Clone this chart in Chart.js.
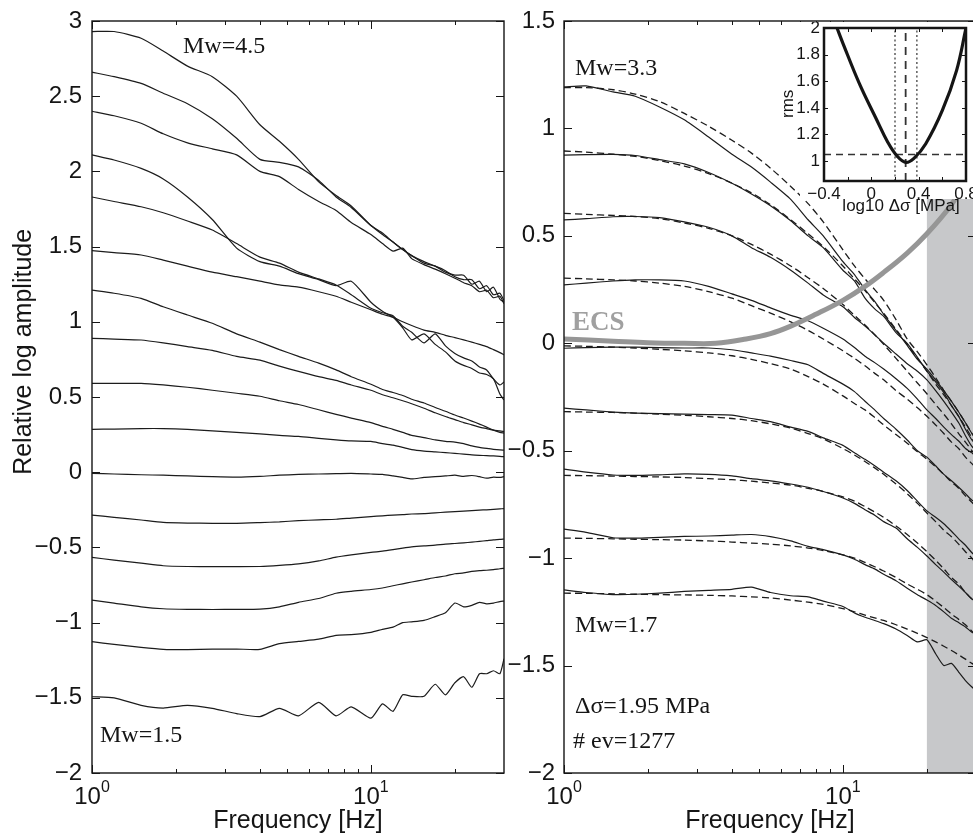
<!DOCTYPE html>
<html>
<head>
<meta charset="utf-8">
<title>Binned source spectra</title>
<script src="https://cdn.jsdelivr.net/npm/chart.js@4.4.1/dist/chart.umd.min.js"></script>
<style>
  html, body { margin: 0; padding: 0; background: #fff; overflow: hidden; }
  body { width: 973px; height: 840px; position: relative; }
  canvas { position: absolute; }
  #left { left: 0; top: 0; }
  #right { left: 490px; top: 0; }
  #inset { left: 778px; top: 22px; }
</style>
</head>
<body>
<canvas id="left" width="520" height="840"></canvas>
<canvas id="right" width="510" height="840"></canvas>
<canvas id="inset" width="200" height="195"></canvas>
<script>
// frequency samples shared by every spectrum (Hz)
const freqs = [1, 1.2, 1.5, 1.8, 2.2, 2.7, 3.3, 4, 4.7, 5.5, 6.5, 7.5, 8.5, 10, 11, 12, 13, 14, 15.5, 17, 18.5, 20, 21.5, 23, 24.5, 26, 27.5, 29, 30];

// left panel: spectra averaged in magnitude bins, Mw 4.5 down to 1.5
const mw45 = [2.93, 2.93, 2.885, 2.80, 2.70, 2.63, 2.50, 2.31, 2.20, 2.08, 1.93, 1.84, 1.77, 1.64, 1.58, 1.53, 1.48, 1.44, 1.40, 1.37, 1.33, 1.31, 1.31, 1.25, 1.27, 1.20, 1.23, 1.15, 1.13];
const mw43 = [2.66, 2.63, 2.585, 2.52, 2.45, 2.35, 2.22, 2.08, 2.06, 2.03, 1.94, 1.83, 1.76, 1.64, 1.59, 1.53, 1.48, 1.44, 1.39, 1.37, 1.34, 1.30, 1.28, 1.28, 1.22, 1.24, 1.18, 1.19, 1.14];
const mw41 = [2.40, 2.37, 2.32, 2.25, 2.19, 2.15, 2.11, 2.00, 1.965, 1.88, 1.80, 1.74, 1.66, 1.58, 1.52, 1.47, 1.49, 1.42, 1.38, 1.35, 1.32, 1.29, 1.26, 1.24, 1.20, 1.21, 1.16, 1.17, 1.12];
const mw39 = [2.11, 2.076, 2.02, 1.95, 1.83, 1.68, 1.49, 1.40, 1.37, 1.32, 1.28, 1.24, 1.27, 1.13, 1.07, 1.03, 0.96, 0.88, 0.92, 0.85, 0.80, 0.74, 0.71, 0.69, 0.66, 0.65, 0.62, 0.52, 0.48];
const mw37 = [1.83, 1.80, 1.765, 1.725, 1.67, 1.61, 1.52, 1.43, 1.39, 1.33, 1.285, 1.245, 1.18, 1.09, 1.06, 1.04, 0.97, 0.93, 0.86, 0.92, 0.84, 0.79, 0.76, 0.74, 0.70, 0.68, 0.62, 0.58, 0.60];
const mw35 = [1.473, 1.46, 1.444, 1.41, 1.37, 1.33, 1.30, 1.27, 1.245, 1.23, 1.20, 1.17, 1.13, 1.08, 1.05, 1.03, 1.00, 0.975, 0.945, 0.93, 0.91, 0.895, 0.88, 0.865, 0.85, 0.835, 0.815, 0.795, 0.78];
const mw33 = [1.21, 1.19, 1.156, 1.10, 1.045, 0.99, 0.92, 0.865, 0.815, 0.77, 0.725, 0.68, 0.635, 0.585, 0.55, 0.53, 0.51, 0.485, 0.46, 0.43, 0.405, 0.38, 0.36, 0.34, 0.32, 0.30, 0.28, 0.265, 0.26];
const mw31 = [0.89, 0.885, 0.879, 0.86, 0.835, 0.81, 0.77, 0.745, 0.705, 0.67, 0.635, 0.61, 0.58, 0.545, 0.515, 0.495, 0.475, 0.455, 0.425, 0.395, 0.37, 0.35, 0.33, 0.315, 0.30, 0.29, 0.28, 0.275, 0.27];
const mw29 = [0.59, 0.59, 0.59, 0.58, 0.565, 0.545, 0.525, 0.505, 0.475, 0.45, 0.415, 0.385, 0.36, 0.33, 0.305, 0.285, 0.265, 0.245, 0.23, 0.215, 0.205, 0.20, 0.19, 0.175, 0.165, 0.158, 0.152, 0.148, 0.147];
const mw27 = [0.285, 0.287, 0.29, 0.29, 0.285, 0.275, 0.265, 0.255, 0.245, 0.238, 0.225, 0.215, 0.208, 0.205, 0.19, 0.18, 0.165, 0.15, 0.14, 0.135, 0.13, 0.125, 0.12, 0.115, 0.112, 0.11, 0.108, 0.105, 0.103];
const mw25 = [-0.008, -0.012, -0.017, -0.02, -0.025, -0.03, -0.033, -0.028, -0.02, -0.015, -0.012, -0.01, -0.008, -0.012, -0.015, -0.025, -0.035, -0.045, -0.035, -0.03, -0.025, -0.02, -0.028, -0.022, -0.03, -0.04, -0.033, -0.035, -0.03];
const mw23 = [-0.285, -0.30, -0.318, -0.333, -0.338, -0.34, -0.34, -0.335, -0.33, -0.322, -0.317, -0.313, -0.305, -0.295, -0.29, -0.285, -0.282, -0.278, -0.275, -0.27, -0.266, -0.262, -0.259, -0.255, -0.252, -0.25, -0.247, -0.244, -0.242];
const mw21 = [-0.566, -0.585, -0.605, -0.622, -0.627, -0.628, -0.628, -0.627, -0.62, -0.61, -0.59, -0.565, -0.55, -0.533, -0.525, -0.515, -0.505, -0.497, -0.49, -0.485, -0.478, -0.474, -0.47, -0.465, -0.46, -0.455, -0.45, -0.447, -0.444];
const mw19 = [-0.85, -0.87, -0.895, -0.908, -0.912, -0.913, -0.912, -0.91, -0.895, -0.865, -0.84, -0.805, -0.792, -0.78, -0.77, -0.755, -0.742, -0.73, -0.715, -0.70, -0.69, -0.675, -0.67, -0.66, -0.655, -0.652, -0.648, -0.642, -0.639];
const mw17 = [-1.127, -1.145, -1.165, -1.178, -1.18, -1.177, -1.176, -1.178, -1.14, -1.125, -1.11, -1.085, -1.08, -1.065, -1.045, -1.03, -1.00, -0.995, -0.985, -0.96, -0.935, -0.87, -0.895, -0.885, -0.866, -0.875, -0.87, -0.86, -0.857];
const mw15 = [-1.493, -1.50, -1.55, -1.568, -1.55, -1.57, -1.605, -1.625, -1.57, -1.62, -1.53, -1.62, -1.56, -1.635, -1.54, -1.59, -1.48, -1.49, -1.49, -1.41, -1.48, -1.40, -1.36, -1.43, -1.34, -1.34, -1.32, -1.34, -1.24];

// right panel: corrected spectra Mw 3.3 .. 1.7 (solid) and the fitted source model (dashed)
const obs33 = [1.193, 1.198, 1.17, 1.15, 1.10, 1.04, 0.96, 0.88, 0.82, 0.75, 0.67, 0.575, 0.50, 0.38, 0.32, 0.25, 0.195, 0.135, 0.06, -0.01, -0.075, -0.12, -0.17, -0.22, -0.27, -0.32, -0.37, -0.42, -0.44];
const obs31 = [0.876, 0.878, 0.879, 0.874, 0.855, 0.835, 0.795, 0.745, 0.695, 0.64, 0.57, 0.50, 0.445, 0.34, 0.29, 0.21, 0.16, 0.125, 0.05, 0.0, -0.065, -0.13, -0.18, -0.23, -0.29, -0.34, -0.40, -0.45, -0.47];
const obs29 = [0.574, 0.58, 0.589, 0.59, 0.585, 0.565, 0.54, 0.50, 0.445, 0.40, 0.34, 0.28, 0.225, 0.17, 0.12, 0.08, 0.04, 0.0, -0.05, -0.095, -0.13, -0.17, -0.22, -0.27, -0.32, -0.37, -0.43, -0.48, -0.50];
const obs27 = [0.272, 0.28, 0.29, 0.295, 0.295, 0.29, 0.265, 0.23, 0.20, 0.165, 0.13, 0.105, 0.07, 0.02, -0.02, -0.06, -0.09, -0.12, -0.165, -0.21, -0.26, -0.31, -0.35, -0.39, -0.425, -0.455, -0.49, -0.51, -0.53];
const obs25 = [-0.023, -0.02, -0.018, -0.018, -0.02, -0.022, -0.022, -0.03, -0.045, -0.06, -0.08, -0.10, -0.14, -0.19, -0.225, -0.27, -0.31, -0.35, -0.40, -0.45, -0.50, -0.53, -0.57, -0.61, -0.64, -0.67, -0.70, -0.73, -0.74];
const obs23 = [-0.302, -0.31, -0.32, -0.325, -0.327, -0.33, -0.332, -0.334, -0.35, -0.365, -0.39, -0.41, -0.44, -0.475, -0.51, -0.54, -0.57, -0.60, -0.64, -0.685, -0.735, -0.78, -0.81, -0.84, -0.875, -0.91, -0.94, -0.975, -0.99];
const obs21 = [-0.586, -0.60, -0.613, -0.615, -0.612, -0.608, -0.61, -0.617, -0.63, -0.64, -0.655, -0.67, -0.69, -0.72, -0.745, -0.775, -0.80, -0.83, -0.86, -0.91, -0.95, -0.99, -1.03, -1.065, -1.10, -1.13, -1.16, -1.19, -1.20];
const obs19 = [-0.865, -0.88, -0.905, -0.907, -0.903, -0.899, -0.897, -0.893, -0.89, -0.90, -0.92, -0.945, -0.96, -0.985, -1.005, -1.03, -1.05, -1.075, -1.105, -1.14, -1.17, -1.195, -1.22, -1.25, -1.28, -1.30, -1.32, -1.345, -1.35];
const obs17 = [-1.148, -1.16, -1.17, -1.168, -1.163, -1.155, -1.15, -1.145, -1.135, -1.16, -1.175, -1.18, -1.20, -1.225, -1.255, -1.275, -1.29, -1.305, -1.33, -1.36, -1.39, -1.38, -1.445, -1.50, -1.49, -1.53, -1.57, -1.60, -1.615];

const fit33 = [1.19, 1.19, 1.18, 1.16, 1.125, 1.07, 1.01, 0.945, 0.885, 0.815, 0.73, 0.65, 0.565, 0.435, 0.36, 0.30, 0.25, 0.20, 0.11, 0.02, -0.04, -0.10, -0.16, -0.22, -0.27, -0.32, -0.37, -0.42, -0.45];
const fit31 = [0.895, 0.89, 0.88, 0.87, 0.85, 0.825, 0.79, 0.745, 0.70, 0.645, 0.575, 0.51, 0.45, 0.36, 0.30, 0.245, 0.19, 0.14, 0.065, -0.005, -0.07, -0.13, -0.19, -0.24, -0.29, -0.34, -0.39, -0.44, -0.47];
const fit29 = [0.605, 0.60, 0.595, 0.59, 0.58, 0.56, 0.535, 0.50, 0.46, 0.415, 0.36, 0.305, 0.255, 0.18, 0.13, 0.085, 0.04, -0.005, -0.07, -0.13, -0.185, -0.235, -0.285, -0.33, -0.375, -0.42, -0.46, -0.50, -0.525];
const fit27 = [0.303, 0.30, 0.295, 0.29, 0.28, 0.265, 0.24, 0.21, 0.175, 0.14, 0.10, 0.06, 0.02, -0.035, -0.07, -0.105, -0.14, -0.17, -0.22, -0.26, -0.30, -0.34, -0.38, -0.42, -0.46, -0.49, -0.53, -0.56, -0.58];
const fit25 = [-0.012, -0.014, -0.018, -0.022, -0.028, -0.035, -0.045, -0.058, -0.075, -0.095, -0.12, -0.155, -0.19, -0.245, -0.28, -0.31, -0.345, -0.38, -0.425, -0.465, -0.505, -0.54, -0.575, -0.61, -0.645, -0.675, -0.71, -0.74, -0.76];
const fit23 = [-0.318, -0.32, -0.322, -0.325, -0.33, -0.335, -0.342, -0.35, -0.36, -0.375, -0.395, -0.42, -0.445, -0.49, -0.52, -0.55, -0.58, -0.61, -0.655, -0.70, -0.745, -0.79, -0.83, -0.87, -0.90, -0.935, -0.97, -1.00, -1.03];
const fit21 = [-0.615, -0.616, -0.618, -0.62, -0.622, -0.625, -0.63, -0.635, -0.642, -0.65, -0.66, -0.675, -0.69, -0.715, -0.735, -0.76, -0.785, -0.81, -0.85, -0.89, -0.93, -0.97, -1.01, -1.05, -1.09, -1.12, -1.16, -1.19, -1.21];
const fit19 = [-0.907, -0.908, -0.91, -0.912, -0.914, -0.916, -0.92, -0.925, -0.93, -0.935, -0.943, -0.953, -0.965, -0.985, -1.00, -1.02, -1.04, -1.06, -1.09, -1.12, -1.145, -1.17, -1.20, -1.23, -1.26, -1.285, -1.31, -1.34, -1.36];
const fit17 = [-1.163, -1.164, -1.166, -1.168, -1.17, -1.171, -1.173, -1.176, -1.18, -1.185, -1.195, -1.205, -1.215, -1.235, -1.25, -1.265, -1.278, -1.29, -1.31, -1.33, -1.35, -1.37, -1.39, -1.41, -1.43, -1.45, -1.47, -1.49, -1.50];

// empirical correction spectrum (ECS)
const ecsFreqs = [1, 1.5, 2, 2.7, 3.5, 4.5, 5.5, 6.5, 8, 10, 12, 14, 17, 20, 24, 27];
const ecsLevel = [0.02, 0.01, 0.003, 0.0, 0.0, 0.02, 0.045, 0.08, 0.135, 0.2, 0.265, 0.33, 0.42, 0.51, 0.63, 0.73];

// inset: misfit against stress drop
const logStress = [-0.29, -0.24, -0.1, 0.04, 0.14, 0.22, 0.29, 0.36, 0.46, 0.6, 0.72, 0.8];
const rmsMisfit = [2.0, 1.885, 1.58, 1.32, 1.14, 1.035, 0.99, 1.02, 1.13, 1.38, 1.68, 2.0];
const bestLogStress = 0.29;
const stressBounds = [0.2, 0.385];
const rmsLimit = 1.05;

// axis ticks and labels
const leftAmpTicks = [-2, -1.5, -1, -0.5, 0, 0.5, 1, 1.5, 2, 2.5, 3];
const leftAmpLabels = ['\u22122', '\u22121.5', '\u22121', '\u22120.5', '0', '0.5', '1', '1.5', '2', '2.5', '3'];
const rightAmpTicks = [-2, -1.5, -1, -0.5, 0, 0.5, 1, 1.5];
const rightAmpLabels = ['\u22122', '\u22121.5', '\u22121', '\u22120.5', '0', '0.5', '1', '1.5'];
const freqDecades = [1, 10];
const freqDecadeLabels = [['10', '0'], ['10', '1']];
const freqMinor = [2, 3, 4, 5, 6, 7, 8, 9, 20];
const stressTicks = [-0.4, -0.2, 0, 0.2, 0.4, 0.6, 0.8];
const stressTickLabels = ['\u22120.4', '', '0', '', '0.4', '', '0.8'];
const rmsTicks = [1, 1.2, 1.4, 1.6, 1.8, 2];
const rmsTickLabels = ['1', '1.2', '1.4', '1.6', '1.8', '2'];

const shadeFrom = 20;

const ink = '#151515';
const sans = "'Liberation Sans', Arial, Helvetica, sans-serif";
const serif = "'Liberation Serif', 'Times New Roman', serif";

const toPoints = (xs, ys) => xs.map((x, i) => ({ x: x, y: ys[i] }));

// box frame with inward ticks on all four sides, tick labels, titles and notes
function framePlugin(o) {
  return {
    id: 'frame',
    beforeDraw(chart) {
      if (!o.backdrop) return;
      const { ctx, chartArea: a } = chart;
      ctx.save();
      ctx.fillStyle = '#fff';
      ctx.fillRect(a.left - o.backdrop.left, 0, chart.width, a.bottom + o.backdrop.bottom);
      ctx.restore();
    },
    beforeDatasetsDraw(chart) {
      if (o.shadeFrom == null) return;
      const { ctx, chartArea: a, scales: { x } } = chart;
      const x0 = x.getPixelForValue(o.shadeFrom);
      ctx.save();
      ctx.fillStyle = 'rgb(199,200,202)';
      ctx.fillRect(x0, a.top, a.right - x0, a.bottom - a.top);
      ctx.restore();
    },
    afterDatasetsDraw(chart) {
      const { ctx, chartArea: a, scales: { x, y } } = chart;
      ctx.save();
      ctx.strokeStyle = ink;
      ctx.lineWidth = o.frameWidth;
      ctx.strokeRect(a.left, a.top, a.right - a.left, a.bottom - a.top);

      ctx.lineWidth = 1;
      ctx.beginPath();
      o.yTicks.forEach(v => {
        const py = Math.round(y.getPixelForValue(v)) + 0.5;
        ctx.moveTo(a.left, py); ctx.lineTo(a.left + o.tickLen, py);
        ctx.moveTo(a.right, py); ctx.lineTo(a.right - o.tickLen, py);
      });
      o.xTicks.forEach(v => {
        const px = Math.round(x.getPixelForValue(v)) + 0.5;
        ctx.moveTo(px, a.bottom); ctx.lineTo(px, a.bottom - o.tickLen);
        ctx.moveTo(px, a.top); ctx.lineTo(px, a.top + o.tickLen);
      });
      (o.xMinor || []).forEach(v => {
        const px = Math.round(x.getPixelForValue(v)) + 0.5;
        ctx.moveTo(px, a.bottom); ctx.lineTo(px, a.bottom - o.minorLen);
        ctx.moveTo(px, a.top); ctx.lineTo(px, a.top + o.minorLen);
      });
      ctx.stroke();

      ctx.fillStyle = ink;
      ctx.font = o.tickSize + 'px ' + sans;
      ctx.textAlign = 'right';
      ctx.textBaseline = 'middle';
      o.yTicks.forEach((v, i) => {
        if (o.yLabels[i]) ctx.fillText(o.yLabels[i], a.left - o.labelGap, y.getPixelForValue(v));
      });

      ctx.textBaseline = 'alphabetic';
      const by = a.bottom + o.xLabelDrop;
      o.xTicks.forEach((v, i) => {
        const lab = o.xLabels[i];
        if (!lab) return;
        const px = x.getPixelForValue(v);
        if (Array.isArray(lab)) {
          // power of ten with a raised exponent
          ctx.font = o.tickSize + 'px ' + sans;
          const wb = ctx.measureText(lab[0]).width;
          ctx.font = o.expSize + 'px ' + sans;
          const we = ctx.measureText(lab[1]).width;
          const x0 = px - (wb + we) / 2;
          ctx.textAlign = 'left';
          ctx.font = o.tickSize + 'px ' + sans;
          ctx.fillText(lab[0], x0, by);
          ctx.font = o.expSize + 'px ' + sans;
          ctx.fillText(lab[1], x0 + wb, by - o.expRaise);
        } else {
          ctx.textAlign = 'center';
          ctx.font = o.tickSize + 'px ' + sans;
          ctx.fillText(lab, px, by);
        }
      });

      ctx.font = o.titleSize + 'px ' + sans;
      ctx.textAlign = 'center';
      if (o.xTitle) ctx.fillText(o.xTitle, (a.left + a.right) / 2 + (o.xTitleShift || 0), a.bottom + o.xTitleDrop);
      if (o.yTitle) {
        ctx.translate(a.left - o.yTitleGap, y.getPixelForValue(o.yTitleAt));
        ctx.rotate(-Math.PI / 2);
        ctx.fillText(o.yTitle, 0, 0);
      }
      ctx.restore();
    },
    afterDraw(chart) {
      const { ctx, scales: { x, y } } = chart;
      ctx.save();
      ctx.textAlign = 'left';
      ctx.textBaseline = 'alphabetic';
      (o.notes || []).forEach(n => {
        ctx.font = (n.bold ? 'bold ' : '') + (n.size || 24) + 'px ' + serif;
        ctx.fillStyle = n.color || ink;
        ctx.fillText(n.text, x.getPixelForValue(n.at[0]), y.getPixelForValue(n.at[1]));
      });
      ctx.restore();
    }
  };
}

function baseOptions(padding, xScale, yScale) {
  return {
    responsive: false,
    animation: false,
    devicePixelRatio: 1,
    events: [],
    layout: { padding: padding },
    plugins: { legend: { display: false }, tooltip: { enabled: false } },
    elements: { point: { radius: 0 } },
    scales: { x: Object.assign({ display: false }, xScale), y: Object.assign({ display: false }, yScale) }
  };
}

const spectrumLine = vals => ({
  data: toPoints(freqs, vals),
  borderColor: '#1c1c1c',
  borderWidth: 1.2,
  tension: 0.2
});

const modelLine = vals => ({
  data: toPoints(freqs, vals),
  borderColor: '#1c1c1c',
  borderWidth: 1.3,
  borderDash: [7, 4],
  tension: 0.3
});

// left panel
const leftSeries = [mw45, mw43, mw41, mw39, mw37, mw35, mw33, mw31, mw29, mw27, mw25, mw23, mw21, mw19, mw17, mw15];
new Chart(document.getElementById('left'), {
  type: 'line',
  data: { datasets: leftSeries.map(spectrumLine) },
  options: baseOptions({ left: 92, right: 16, top: 21, bottom: 67 },
    { type: 'logarithmic', min: 1, max: 30 }, { type: 'linear', min: -2, max: 3 }),
  plugins: [framePlugin({
    yTicks: leftAmpTicks, yLabels: leftAmpLabels,
    xTicks: freqDecades, xLabels: freqDecadeLabels, xMinor: freqMinor,
    tickLen: 8, minorLen: 4, frameWidth: 1.4,
    tickSize: 24, expSize: 16, expRaise: 12, labelGap: 10, xLabelDrop: 31,
    titleSize: 25, xTitle: 'Frequency [Hz]', xTitleDrop: 55,
    yTitle: 'Relative log amplitude', yTitleGap: 61, yTitleAt: 0.8,
    notes: [
      { text: 'Mw=4.5', at: [2.12, 2.787] },
      { text: 'Mw=1.5', at: [1.068, -1.792] }
    ]
  })]
});

// right panel
const observed = [obs33, obs31, obs29, obs27, obs25, obs23, obs21, obs19, obs17];
const modelled = [fit33, fit31, fit29, fit27, fit25, fit23, fit21, fit19, fit17];
new Chart(document.getElementById('right'), {
  type: 'line',
  data: {
    datasets: [{
      data: toPoints(ecsFreqs, ecsLevel),
      borderColor: 'rgb(150,150,150)',
      borderWidth: 5,
      tension: 0.4
    }].concat(observed.map(spectrumLine), modelled.map(modelLine))
  },
  options: baseOptions({ left: 74, right: 24, top: 21, bottom: 67 },
    { type: 'logarithmic', min: 1, max: 30 }, { type: 'linear', min: -2, max: 1.5 }),
  plugins: [framePlugin({
    yTicks: rightAmpTicks, yLabels: rightAmpLabels,
    xTicks: freqDecades, xLabels: freqDecadeLabels, xMinor: freqMinor,
    tickLen: 8, minorLen: 4, frameWidth: 1.4,
    tickSize: 24, expSize: 16, expRaise: 12, labelGap: 9, xLabelDrop: 31,
    titleSize: 25, xTitle: 'Frequency [Hz]', xTitleDrop: 55,
    shadeFrom: shadeFrom,
    notes: [
      { text: 'Mw=3.3', at: [1.095, 1.249] },
      { text: 'ECS', at: [1.068, 0.062], bold: true, size: 27, color: 'rgb(160,160,160)' },
      { text: 'Mw=1.7', at: [1.095, -1.342] },
      { text: '\u0394\u03c3=1.95 MPa', at: [1.095, -1.722] },
      { text: '# ev=1277', at: [1.077, -1.883] }
    ]
  })]
});

// inset: rms misfit versus log stress drop
new Chart(document.getElementById('inset'), {
  type: 'line',
  data: {
    datasets: [
      { data: toPoints(logStress, rmsMisfit), borderColor: ink, borderWidth: 3.2, tension: 0.4 },
      { data: [{ x: bestLogStress, y: 0.85 }, { x: bestLogStress, y: 2 }], borderColor: '#333', borderWidth: 1.8, borderDash: [8, 6] },
      { data: [{ x: stressBounds[0], y: 0.85 }, { x: stressBounds[0], y: 2 }], borderColor: '#333', borderWidth: 1.2, borderDash: [2, 2.5] },
      { data: [{ x: stressBounds[1], y: 0.85 }, { x: stressBounds[1], y: 2 }], borderColor: '#333', borderWidth: 1.2, borderDash: [2, 2.5] },
      { data: [{ x: -0.4, y: rmsLimit }, { x: 0.8, y: rmsLimit }], borderColor: '#333', borderWidth: 1.5, borderDash: [7, 5] }
    ]
  },
  options: baseOptions({ left: 46, right: 12, top: 6, bottom: 36 },
    { type: 'linear', min: -0.4, max: 0.8 }, { type: 'linear', min: 0.85, max: 2 }),
  plugins: [framePlugin({
    backdrop: { left: 24, bottom: 18 },
    yTicks: rmsTicks, yLabels: rmsTickLabels,
    xTicks: stressTicks, xLabels: stressTickLabels,
    tickLen: 4, minorLen: 0, frameWidth: 2.5,
    tickSize: 17, expSize: 11, expRaise: 8, labelGap: 4, xLabelDrop: 18,
    titleSize: 17, xTitle: 'log10 \u0394\u03c3 [MPa]', xTitleDrop: 30, xTitleShift: 6,
    yTitle: 'rms', yTitleGap: 31, yTitleAt: 1.43
  })]
});
</script>
</body>
</html>
